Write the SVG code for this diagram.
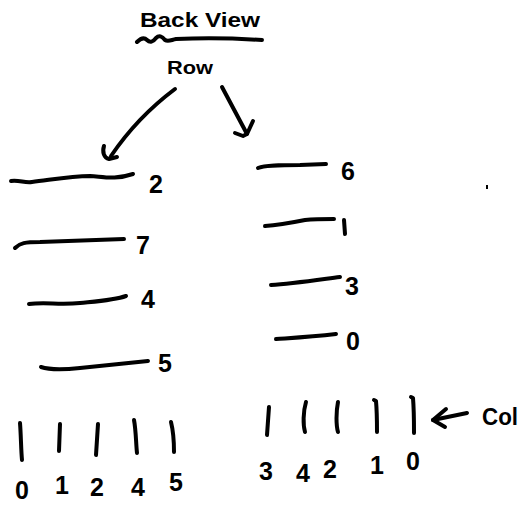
<svg xmlns="http://www.w3.org/2000/svg" width="524" height="505" viewBox="0 0 524 505">
<style>
.s{fill:none;stroke:#000;stroke-width:4;stroke-linecap:round;stroke-linejoin:round}
.t{font-family:"Liberation Sans",Arial,sans-serif;font-weight:bold;fill:#000}
.d{font-size:25px;text-anchor:middle}
</style>
<rect width="524" height="505" fill="#fff"/>
<g id="title">
<text class="t" x="140" y="27" font-size="21" textLength="120" lengthAdjust="spacingAndGlyphs">Back View</text>
<path class="s" d="M137 42 C141 38 144 37 147 40 C150 43 153 42 156 38 C159 35 162 36 165 40 C168 42 171 40 176 39 C200 38 230 38 262 40"/>
</g>
<g id="row-label">
<text class="t" x="167" y="74" font-size="19" textLength="46" lengthAdjust="spacingAndGlyphs">Row</text>
</g>
<g id="connectors">
<path class="s" d="M175 89 C155 104 130 128 111 156"/>
<path class="s" d="M104 146 C102 152 104 158 109 159 L117 157"/>
<path class="s" d="M222 87 L247 134"/>
<path class="s" d="M235 133 L243 136 L247 134 L253 121"/>
<path class="s" d="M467 413 L433 420"/>
<path class="s" d="M446 409 L433 420 L445 427"/>
</g>
<g id="left-rows">
<path class="s" d="M11 181 C20 180 24 183 32 182 C50 180 70 176 90 176 C105 177 115 180 133 174"/>
<text class="t d" x="156" y="193">2</text>
<path class="s" d="M15 248 C20 243 25 242 40 242 C70 241 100 240 124 239"/>
<text class="t d" x="143" y="254">7</text>
<path class="s" d="M29 304 C45 302 60 305 80 303 C100 301 115 300 126 296"/>
<text class="t d" x="148" y="308">4</text>
<path class="s" d="M41 367 C50 370 60 370 80 368 C110 365 130 363 148 361"/>
<text class="t d" x="165" y="372">5</text>
</g>
<g id="right-rows">
<path class="s" d="M258 168 C265 165 280 165 300 165 L326 164"/>
<text class="t d" x="348" y="180">6</text>
<path class="s" d="M265 226 C280 225 295 222 305 220 C315 219 325 219 334 219"/>
<path class="s" d="M344 220 L345 234"/>
<path class="s" d="M271 285 C290 284 310 281 340 277"/>
<text class="t d" x="352" y="295">3</text>
<path class="s" d="M276 339 C290 338 310 337 336 334"/>
<text class="t d" x="353" y="350">0</text>
</g>
<g id="left-cols">
<path class="s" d="M20 423 C21 435 21 450 22 460"/>
<path class="s" d="M60 424 L59 451"/>
<path class="s" d="M98 424 L96 455"/>
<path class="s" d="M134 420 C136 430 136 445 137 453"/>
<path class="s" d="M171 422 C173 430 174 440 174 452"/>
<text class="t d" x="22" y="499">0</text>
<text class="t d" x="62" y="494">1</text>
<text class="t d" x="97" y="496">2</text>
<text class="t d" x="138" y="496">4</text>
<text class="t d" x="176" y="491">5</text>
</g>
<g id="right-cols">
<path class="s" d="M269 407 L267 435"/>
<path class="s" d="M306 402 C303 412 303 425 305 432"/>
<path class="s" d="M338 402 C336 412 336 425 338 432"/>
<path class="s" d="M374 400 L376 401 C377 412 377 425 377 432"/>
<path class="s" d="M411 397 L413 398 C414 410 414 422 414 433"/>
<text class="t" x="482" y="425" font-size="24" textLength="36" lengthAdjust="spacingAndGlyphs">Col</text>
<text class="t d" x="266" y="480">3</text>
<text class="t d" x="303" y="482">4</text>
<text class="t d" x="330" y="478">2</text>
<text class="t d" x="377" y="474">1</text>
<text class="t d" x="413" y="470">0</text>
</g>
<rect x="486" y="185" width="2" height="4" fill="#000"/>
</svg>
